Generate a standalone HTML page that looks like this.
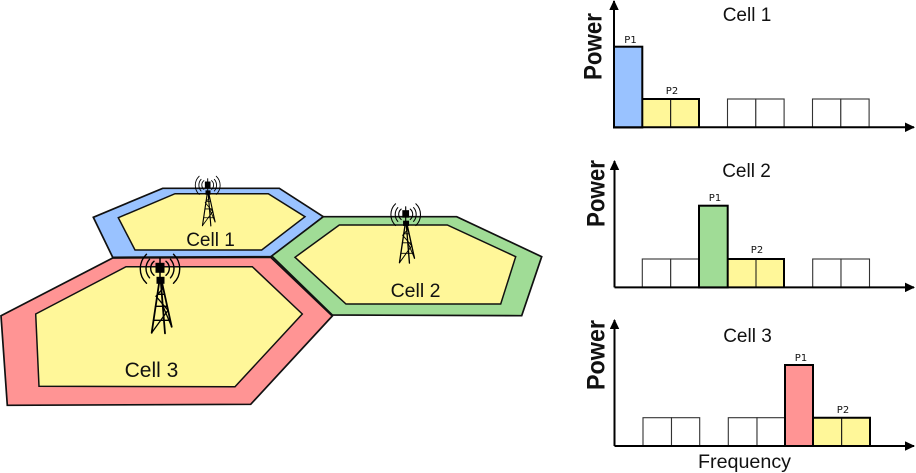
<!DOCTYPE html>
<html>
<head>
<meta charset="utf-8">
<style>
html,body{margin:0;padding:0;background:#fff}
svg{display:block}
text{font-family:"Liberation Sans",Arial,sans-serif;fill:#111}
.p{font-family:"DejaVu Sans",sans-serif;font-size:10px;text-anchor:middle}
.c{font-size:19px;text-anchor:middle}
.pw{font-size:25px;font-weight:bold;text-anchor:middle}
.e{fill:#fff;stroke:#333;stroke-width:1.1}
.b{stroke:#000;stroke-width:2}
.ax{stroke:#000;stroke-width:2;fill:none}
</style>
</head>
<body>
<svg width="916" height="473" viewBox="0 0 916 473" xmlns="http://www.w3.org/2000/svg">
<defs>
<g id="tower" fill="none" stroke="#000" stroke-linecap="round">
  <path d="M0,-10V12" stroke-width="1.5"/>
  <rect x="-4" y="-5" width="8" height="9" fill="#000" stroke-width="1"/>
  <rect x="-3" y="9" width="7" height="6" fill="#000" stroke-width="1"/>
  <path d="M-8.3,64.5L-0.5,12M11.7,58.5L1.5,12M5,65L0.7,12" stroke-width="1.8"/>
  <path d="M-8.3,64.5L8,42L-4,28L3,20M-6.5,52H10M-4.5,38H7M-2.5,26H4.5M11.7,58.5L3,38" stroke-width="1.3"/>
  <path d="M-6,-7A9,9 0 0 0 -6,7M6,-7A9,9 0 0 1 6,7M-10.5,-9A14,14 0 0 0 -10.5,9.5M10.5,-9A14,14 0 0 1 10.5,9.5M-13.5,-14A20,20 0 0 0 -13.5,15M13.5,-14A20,20 0 0 1 13.5,15" stroke-width="1.4"/>
</g>
<marker id="a" viewBox="0 0 10 10" refX="9" refY="5" markerWidth="10" markerHeight="9.5" orient="auto" markerUnits="userSpaceOnUse" preserveAspectRatio="none"><path d="M0,0L10,5L0,10Z" fill="#000"/></marker>
</defs>

<!-- Cell polygons -->
<polygon points="93.3,217.3 162.7,188.3 279.3,188.3 323.3,216.7 271.7,256.7 112.7,257.3" fill="#99c2ff" stroke="#111" stroke-width="1.7"/>
<polygon points="118.3,217.7 175,193.7 268.3,193.7 305,216.7 261.7,250 135,250" fill="#fff799" stroke="#111" stroke-width="1.5"/>
<polygon points="271.7,256 323.3,216.7 456.7,216.7 541.7,256.7 521.7,315.7 332.3,315" fill="#a0dc96" stroke="#111" stroke-width="1.7"/>
<polygon points="295,257.3 339.3,225 447.3,225 515.7,256.7 500.7,304 346,304" fill="#fff799" stroke="#111" stroke-width="1.5"/>
<polygon points="1,315.7 112.7,258 270.7,257.3 332.3,316 250.7,404.3 7.3,405.3" fill="#ff9494" stroke="#111" stroke-width="1.7"/>
<polygon points="35.7,314 126,266.7 252.3,266.7 302.3,314 235,386.7 39,386.3" fill="#fff799" stroke="#111" stroke-width="1.5"/>

<text x="210.5" y="246" font-size="19" text-anchor="middle">Cell 1</text>
<text x="415.5" y="297" font-size="19.5" text-anchor="middle">Cell 2</text>
<text x="151.5" y="377" font-size="21" text-anchor="middle">Cell 3</text>

<use href="#tower" transform="translate(160,268.3)"/>
<use href="#tower" transform="translate(405.7,214.3) scale(.75)"/>
<use href="#tower" transform="translate(207.7,185) scale(.63)"/>

<!-- Chart 1 -->
<rect class="e" x="727.5" y="99" width="28.3" height="28.5"/><rect class="e" x="755.8" y="99" width="28.3" height="28.5"/>
<rect class="e" x="812.5" y="99" width="28.3" height="28.5"/><rect class="e" x="840.8" y="99" width="28.3" height="28.5"/>
<rect x="642.3" y="99" width="28.4" height="28.5" fill="#fff799" stroke="#111" stroke-width="1"/>
<rect x="670.7" y="99" width="28.3" height="28.5" fill="#fff799" stroke="#111" stroke-width="1"/>
<path class="b" fill="none" d="M642.3,99H699V127.5"/>
<rect class="b" x="614" y="46.7" width="28.3" height="80.8" fill="#99c2ff"/>
<path class="ax" d="M614,127.3V1" marker-end="url(#a)"/>
<path class="ax" d="M614,127.3H914" marker-end="url(#a)"/>
<text class="c" x="747" y="21">Cell 1</text>
<text class="p" x="630.5" y="43">P1</text>
<text class="p" x="672" y="94">P2</text>
<text class="pw" transform="translate(601.5,46.5) rotate(-90)" textLength="67" lengthAdjust="spacingAndGlyphs">Power</text>

<!-- Chart 2 -->
<rect class="e" x="642.3" y="259" width="28.4" height="28.5"/><rect class="e" x="670.7" y="259" width="28.3" height="28.5"/>
<rect class="e" x="812.7" y="259" width="28.3" height="28.5"/><rect class="e" x="841" y="259" width="28.5" height="28.5"/>
<rect x="727.7" y="259" width="28.3" height="28.5" fill="#fff799" stroke="#111" stroke-width="1"/>
<rect x="756" y="259" width="28" height="28.5" fill="#fff799" stroke="#111" stroke-width="1"/>
<path class="b" fill="none" d="M727.7,259H784V287.5"/>
<rect class="b" x="699" y="205.7" width="28.7" height="81.8" fill="#a0dc96"/>
<path class="ax" d="M614.5,287.4V161" marker-end="url(#a)"/>
<path class="ax" d="M614.5,287.4H914" marker-end="url(#a)"/>
<text class="c" x="746.5" y="177">Cell 2</text>
<text class="p" x="715" y="201">P1</text>
<text class="p" x="757" y="253">P2</text>
<text class="pw" transform="translate(604.5,193.5) rotate(-90)" textLength="67" lengthAdjust="spacingAndGlyphs">Power</text>

<!-- Chart 3 -->
<rect class="e" x="643" y="417.7" width="28.5" height="28.3"/><rect class="e" x="671.5" y="417.7" width="28.2" height="28.3"/>
<rect class="e" x="728.3" y="417.7" width="28.7" height="28.3"/><rect class="e" x="757" y="417.7" width="28" height="28.3"/>
<rect x="813" y="417.7" width="28.7" height="28.3" fill="#fff799" stroke="#111" stroke-width="1"/>
<rect x="841.7" y="417.7" width="28.3" height="28.3" fill="#fff799" stroke="#111" stroke-width="1"/>
<path class="b" fill="none" d="M813,417.7H870V446"/>
<rect class="b" x="785" y="365" width="28" height="81" fill="#ff9494"/>
<path class="ax" d="M614.5,446V320" marker-end="url(#a)"/>
<path class="ax" d="M614.5,446H914" marker-end="url(#a)"/>
<text class="c" x="747.5" y="342">Cell 3</text>
<text class="p" x="801" y="361">P1</text>
<text class="p" x="843" y="413">P2</text>
<text class="pw" transform="translate(604.5,355) rotate(-90)" textLength="70" lengthAdjust="spacingAndGlyphs">Power</text>
<text x="744.5" y="468" font-size="19.7" text-anchor="middle">Frequency</text>
</svg>
</body>
</html>
